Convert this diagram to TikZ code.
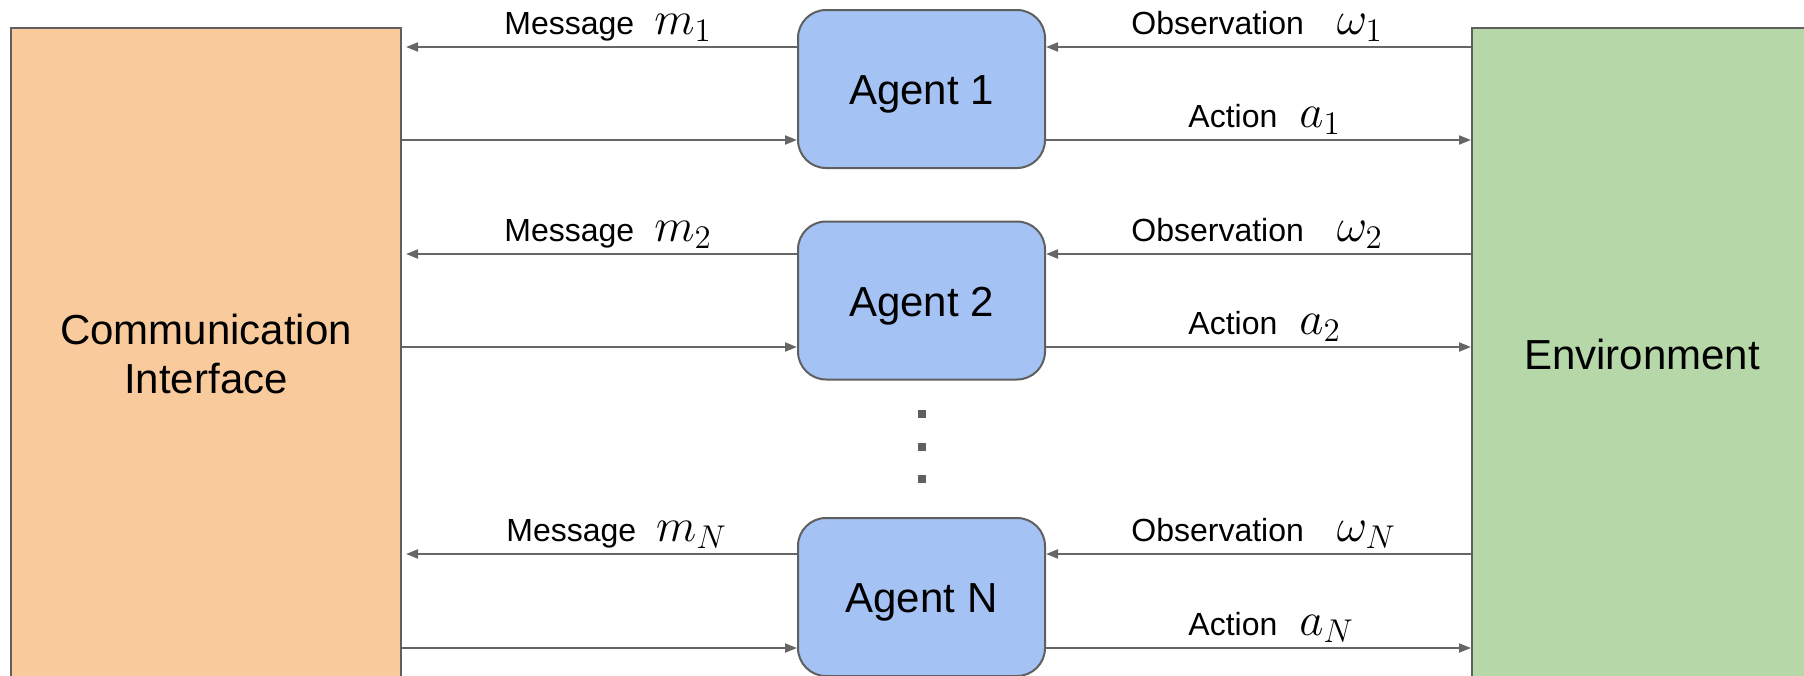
\documentclass[tikz,border=0pt]{standalone}
\usepackage{fix-cm}
\usepackage{fontspec}
\setmainfont{Liberation Sans}
\usetikzlibrary{arrows.meta,positioning}
\definecolor{commfill}{HTML}{F9CB9C}
\definecolor{envfill}{HTML}{B6D7A8}
\definecolor{agentfill}{HTML}{A4C2F4}
\definecolor{linegray}{HTML}{666666}
\definecolor{bordergray}{HTML}{5F5F5F}
\newcommand{\mathbig}[1]{{\fontsize{23.5}{27}\selectfont$#1$}}
\begin{document}
\begin{tikzpicture}[x=0.5pt, y=-0.5pt,
	agent/.style = {draw=bordergray, line width=1pt, fill=agentfill, rounded corners=14pt, minimum width=123.5pt, minimum height=79pt, text height=15.5pt, text depth=0pt, font=\fontsize{21}{24}\selectfont},
	sidebox/.style = {draw=bordergray, line width=1pt, minimum height=326pt, align=center, font=\fontsize{21}{24.5}\selectfont},
	flow/.style = {draw=linegray, line width=1pt, -{Triangle[length=6pt, width=4.5pt]}},
	lbl/.style = {anchor=base west, inner sep=0pt, font=\fontsize{16}{19}\selectfont},
	dot/.style = {fill=bordergray, minimum size=4pt, inner sep=0pt}]
	\useasboundingbox (0,0) rectangle (1804,675);
	\clip (0,0) rectangle (1804,675);
	
	\node[sidebox, fill=commfill, minimum width=195pt] (comm) at (206,354) {Communication\\Interface};
	\node[sidebox, fill=envfill, minimum width=170pt] (env) at (1642,354) {Environment};
	
	\node[agent] (agent1) at (921.5,89) {Agent 1};
	\node[agent] (agent2) at (921.5,300.5) {Agent 2};
	\node[agent] (agentN) at (921.5,597) {Agent N};
	
	\node[dot] (dot1) at (922,414) {};
	\node[dot] (dot2) at (922,447) {};
	\node[dot] (dot3) at (922,479) {};
	
	\coordinate (m1) at (0,47);
	\coordinate (act1) at (0,140);
	\coordinate (m2) at (0,254);
	\coordinate (act2) at (0,347);
	\coordinate (mN) at (0,554);
	\coordinate (actN) at (0,648);
	
	% labels above the arrows
	\node[lbl] (msg1) at (504,34) {Message\hspace{10pt}\mathbig{m_1}};
	\node[lbl] (obs1) at (1131,34) {Observation\hspace{16.5pt}\mathbig{\omega_1}};
	\node[lbl] (actlbl1) at (1188,127) {Action\hspace{11pt}\mathbig{a_1}};
	\node[lbl] (msg2) at (504,241) {Message\hspace{10pt}\mathbig{m_2}};
	\node[lbl] (obs2) at (1131,241) {Observation\hspace{16.5pt}\mathbig{\omega_2}};
	\node[lbl] (actlbl2) at (1188,334) {Action\hspace{11pt}\mathbig{a_2}};
	\node[lbl] (msgN) at (506,541) {Message\hspace{10pt}\mathbig{m_N}};
	\node[lbl] (obsN) at (1131,541) {Observation\hspace{16.5pt}\mathbig{\omega_N}};
	\node[lbl] (actlblN) at (1188,635) {Action\hspace{11pt}\mathbig{a_N}};
	
	\draw[flow, shorten >=2pt] (agent1.west |- m1) -- (comm.east |- m1);
	\draw[flow] (comm.east |- act1) -- (agent1.west |- act1);
	\draw[flow] (env.west |- m1) -- (agent1.east |- m1);
	\draw[flow] (agent1.east |- act1) -- (env.west |- act1);
	
	\draw[flow, shorten >=2pt] (agent2.west |- m2) -- (comm.east |- m2);
	\draw[flow] (comm.east |- act2) -- (agent2.west |- act2);
	\draw[flow] (env.west |- m2) -- (agent2.east |- m2);
	\draw[flow] (agent2.east |- act2) -- (env.west |- act2);
	
	\draw[flow, shorten >=2pt] (agentN.west |- mN) -- (comm.east |- mN);
	\draw[flow] (comm.east |- actN) -- (agentN.west |- actN);
	\draw[flow] (env.west |- mN) -- (agentN.east |- mN);
	\draw[flow] (agentN.east |- actN) -- (env.west |- actN);
\end{tikzpicture}
\end{document}
